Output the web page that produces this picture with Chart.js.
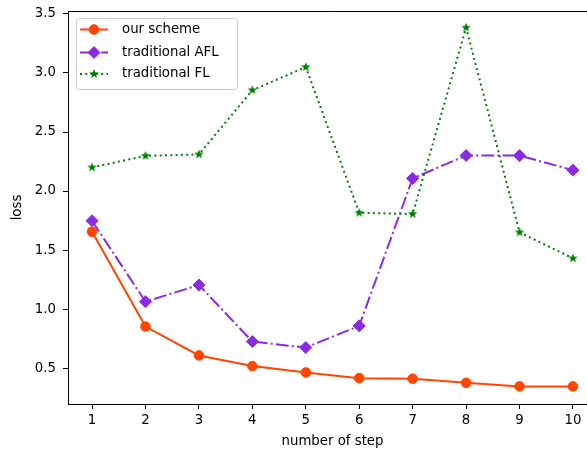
<!DOCTYPE html>
<html>
<head>
<meta charset="utf-8">
<script src="https://cdn.jsdelivr.net/npm/chart.js@4.4.1/dist/chart.umd.min.js"></script>
<style>
  html, body { margin: 0; padding: 0; overflow: hidden; background: #fff; }
  #lossChart { display: block; }
</style>
</head>
<body>
<canvas id="lossChart" width="600" height="454"></canvas>
<script>
(() => {
  'use strict'

  // values
  const steps = [1, 2, 3, 4, 5, 6, 7, 8, 9, 10]
  const ourScheme = [1.655, 0.852, 0.607, 0.517, 0.463, 0.415, 0.41, 0.375, 0.345, 0.345]
  const tradAFL = [1.748, 1.063, 1.204, 0.725, 0.674, 0.858, 2.107, 2.301, 2.30, 2.177]
  const tradFL = [2.20, 2.298, 2.31, 2.854, 3.05, 1.816, 1.805, 3.384, 1.65, 1.43]
  const yTicks = [0.5, 1.0, 1.5, 2.0, 2.5, 3.0, 3.5]

  const font = 'DejaVu Sans'
  Chart.defaults.font.family = font
  Chart.defaults.font.size = 13.3
  Chart.defaults.color = '#000'

  // filled five-point star, like matplotlib's '*'
  function starImage(color, r) {
    const c = document.createElement('canvas')
    const s = Math.ceil(r * 2 + 2)
    c.width = s
    c.height = s
    const g = c.getContext('2d')
    g.beginPath()
    for (let i = 0; i < 10; i++) {
      const rad = i % 2 ? r * 0.42 : r
      const a = -Math.PI / 2 + i * Math.PI / 5
      g.lineTo(s / 2 + Math.cos(a) * rad, s / 2 + Math.sin(a) * rad)
    }
    g.closePath()
    g.fillStyle = color
    g.fill()
    return c
  }

  const pts = xs => ys => xs.map((x, i) => ({ x: x, y: ys[i] }))
  const onSteps = pts(steps)

  const datasets = [{
    label: 'our scheme',
    data: onSteps(ourScheme),
    borderColor: '#ff4500',
    backgroundColor: '#ff4500',
    borderWidth: 2,
    pointStyle: 'circle',
    pointRadius: 4.8,
    pointBorderWidth: 1,
    order: 2
  }, {
    label: 'traditional AFL',
    data: onSteps(tradAFL),
    borderColor: '#8a2be2',
    backgroundColor: '#8a2be2',
    borderWidth: 2,
    borderDash: [12.8, 3.2, 2, 3.2],
    pointStyle: 'rectRot',
    pointRadius: 6,
    pointBorderWidth: 1,
    order: 1
  }, {
    label: 'traditional FL',
    data: onSteps(tradFL),
    borderColor: '#008000',
    backgroundColor: '#008000',
    borderWidth: 2,
    borderDash: [2, 3.3],
    pointStyle: starImage('#008000', 5),
    pointRadius: 5,
    order: 0
  }]

  // top/right spines (the right one falls outside the picture, as in the original)
  const frame = {
    id: 'frame',
    afterDatasetsDraw(chart) {
      const { ctx, chartArea: a } = chart
      ctx.save()
      ctx.strokeStyle = '#000'
      ctx.lineWidth = 1
      ctx.beginPath()
      const t = Math.round(a.top) + 0.5
      ctx.moveTo(a.left, t)
      ctx.lineTo(a.right, t)
      ctx.lineTo(a.right, a.bottom)
      ctx.stroke()
      ctx.restore()
    }
  }

  // matplotlib-style legend: line sample + marker + label
  const mplLegend = {
    id: 'mplLegend',
    afterDraw(chart) {
      const { ctx } = chart
      const box = { x: 76, y: 18, w: 161, h: 71, r: 3 }
      ctx.save()
      ctx.beginPath()
      ctx.roundRect(box.x + 0.5, box.y + 0.5, box.w, box.h, box.r)
      ctx.fillStyle = 'rgba(255,255,255,0.8)'
      ctx.fill()
      ctx.strokeStyle = '#cccccc'
      ctx.lineWidth = 1
      ctx.stroke()

      const rowY = [29.5, 52.5, 74]
      chart.data.datasets.forEach((ds, i) => {
        const y = rowY[i]
        ctx.save()
        ctx.strokeStyle = ds.borderColor
        ctx.lineWidth = ds.borderWidth
        ctx.setLineDash(ds.borderDash || [])
        ctx.beginPath()
        ctx.moveTo(80, y)
        ctx.lineTo(108, y)
        ctx.stroke()
        ctx.restore()
        ctx.fillStyle = ds.backgroundColor
        ctx.strokeStyle = ds.borderColor
        Chart.helpers.drawPoint(ctx, {
          pointStyle: ds.pointStyle,
          radius: ds.pointRadius,
          rotation: 0,
          borderWidth: ds.pointBorderWidth || 0
        }, 94, y)
        ctx.fillStyle = '#000'
        ctx.font = '13.3px "' + font + '"'
        ctx.textBaseline = 'middle'
        ctx.textAlign = 'left'
        ctx.fillText(ds.label, 122, y)
      })
      ctx.restore()
    }
  }

  const ctx = document.getElementById('lossChart')
  // eslint-disable-next-line no-unused-vars
  const lossChart = new Chart(ctx, {
    type: 'line',
    data: { datasets: datasets },
    plugins: [frame, mplLegend],
    options: {
      responsive: false,
      animation: false,
      devicePixelRatio: 1,
      layout: { autoPadding: false, padding: { top: 11, right: 3, left: 0, bottom: 0 } },
      plugins: {
        legend: { display: false },
        tooltip: { enabled: false }
      },
      elements: { line: { tension: 0 } },
      scales: {
        x: {
          type: 'linear',
          min: 0.55,
          max: 10.45,
          afterFit: scale => {
            scale.height = 50
            scale.paddingLeft = 0
            scale.paddingRight = 0
          },
          afterBuildTicks: scale => { scale.ticks = steps.map(v => ({ value: v })) },
          grid: { drawOnChartArea: false, drawTicks: true, tickLength: 5, color: '#000' },
          border: { display: true, color: '#000', width: 1 },
          ticks: { padding: 4, callback: v => String(v), maxRotation: 0, autoSkip: false },
          title: { display: true, text: 'number of step', padding: { top: 0, bottom: 4 } }
        },
        y: {
          type: 'linear',
          min: 0.196,
          max: 3.525,
          afterFit: scale => {
            scale.width = 68
            scale.paddingTop = 0
            scale.paddingBottom = 0
          },
          afterBuildTicks: scale => { scale.ticks = yTicks.map(v => ({ value: v })) },
          grid: { drawOnChartArea: false, drawTicks: true, tickLength: 5, color: '#000' },
          border: { display: true, color: '#000', width: 1 },
          ticks: { padding: 7, callback: v => v.toFixed(1), autoSkip: false },
          title: { display: true, text: 'loss', padding: { top: 10, bottom: 0 } }
        }
      }
    }
  })
})()
</script>
</body>
</html>
